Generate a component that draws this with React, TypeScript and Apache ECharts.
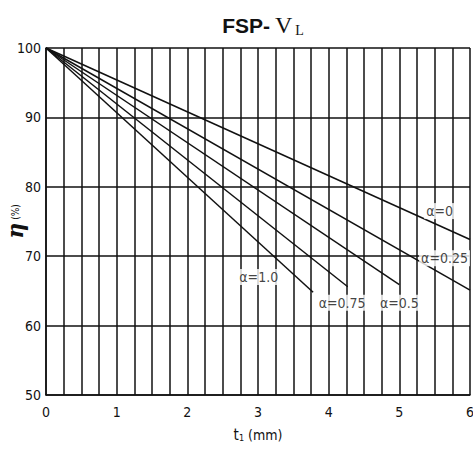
import React, { useEffect, useRef } from "react";
import * as echarts from "echarts";

const alphaNames = ["α=0", "α=0.25", "α=0.5", "α=0.75", "α=1.0"];
const startT = 0;
const startEta = 100;
const endT = [6, 6, 5, 4.27, 3.78];
const endEta = [72.4, 65.1, 65.9, 65.6, 64.8];
const labelT = [5.57, 5.64, 5.0, 4.19, 3.01];
const labelEta = [76.5, 69.7, 63.3, 63.3, 67.0];
const xTicks = [0, 1, 2, 3, 4, 5, 6];
const yTicks = [50, 60, 70, 80, 90, 100];

const FONT = "'Liberation Sans Narrow', 'DejaVu Sans Condensed', 'Liberation Sans', sans-serif";

export default function App() {
  const ref = useRef<HTMLDivElement>(null);
  useEffect(() => {
    document.body.style.margin = "0";
    const chart = echarts.init(ref.current!, null, { renderer: "svg" });
    const lineSeries = alphaNames.map((n, i) => ({
      type: "line",
      name: n,
      data: [
        [startT, startEta],
        [endT[i], endEta[i]],
      ],
      showSymbol: false,
      symbol: "none",
      lineStyle: { color: "#111", width: 1.5 },
      z: 3,
    }));
    chart.setOption({
      animation: false,
      backgroundColor: "#fff",
      title: {
        text: "{a|FSP-} {b|V}{c|L}",
        left: 258,
        textAlign: "center",
        top: 8,
        textStyle: {
          fontWeight: "normal",
          rich: {
            a: { fontFamily: "'Liberation Sans', Arial, sans-serif", fontWeight: "bold", fontSize: 21, color: "#111" },
            b: { fontFamily: "'Liberation Serif', 'DejaVu Serif', serif", fontWeight: "normal", fontSize: 24, color: "#111" },
            c: { fontFamily: "'Liberation Serif', 'DejaVu Serif', serif", fontWeight: "normal", fontSize: 14, color: "#111", verticalAlign: "bottom", padding: [8, 0, 0, 3] },
          },
        },
      },
      grid: { left: 46, right: 3, top: 48, bottom: 55, outerBoundsMode: "none", containLabel: false },
      xAxis: {
        type: "value",
        min: 0,
        max: 6,
        interval: 0.25,
        name: "{t|t}{s|1}{m| (mm)}",
        nameLocation: "middle",
        nameGap: 32,
        nameMoveOverlap: false,
        nameTextStyle: {
          rich: {
            t: { fontFamily: FONT, fontSize: 15, color: "#111" },
            s: { fontFamily: FONT, fontSize: 9, color: "#111", verticalAlign: "bottom", padding: [4, 0, 0, 0] },
            m: { fontFamily: FONT, fontSize: 14, color: "#111" },
          },
        },
        axisLine: { show: true, lineStyle: { color: "#111", width: 1.5 } },
        axisTick: { show: false },
        splitLine: { show: true, lineStyle: { color: "#111", width: 1.5 } },
        axisLabel: {
          fontFamily: FONT,
          fontSize: 14,
          color: "#111",
          margin: 10,
          formatter: (v: number) => (xTicks.includes(v) ? String(v) : ""),
        },
      },
      yAxis: {
        type: "value",
        min: 50,
        max: 100,
        interval: 10,
        name: "{e|η}{p| (%)}",
        nameLocation: "middle",
        nameRotate: 90,
        nameGap: 20,
        nameMoveOverlap: false,
        nameTextStyle: {
          rich: {
            e: { fontFamily: "'DejaVu Serif', 'Liberation Serif', serif", fontStyle: "italic", fontWeight: "bold", fontSize: 22, color: "#111" },
            p: { fontFamily: FONT, fontSize: 10, color: "#111" },
          },
        },
        axisLine: { show: true, lineStyle: { color: "#111", width: 1.5 } },
        axisTick: { show: false },
        splitLine: { show: true, lineStyle: { color: "#111", width: 1.5 } },
        axisLabel: {
          fontFamily: FONT,
          fontSize: 14,
          color: "#111",
          margin: 5,
          formatter: (v: number) => (yTicks.includes(v) ? String(v) : ""),
        },
      },
      series: [
        ...lineSeries,
        {
          type: "scatter",
          symbolSize: 1,
          itemStyle: { color: "transparent" },
          z: 5,
          data: alphaNames.map((n, i) => ({ name: n, value: [labelT[i], labelEta[i]] })),
          label: {
            show: true,
            position: "inside",
            formatter: (p: any) => p.name,
            fontFamily: FONT,
            fontSize: 14,
            color: "#111",
            backgroundColor: "#fff",
            padding: [1, 2],
          },
        },
      ],
    });
    return () => chart.dispose();
  }, []);
  return <div ref={ref} style={{ width: 473, height: 450 }} />;
}
